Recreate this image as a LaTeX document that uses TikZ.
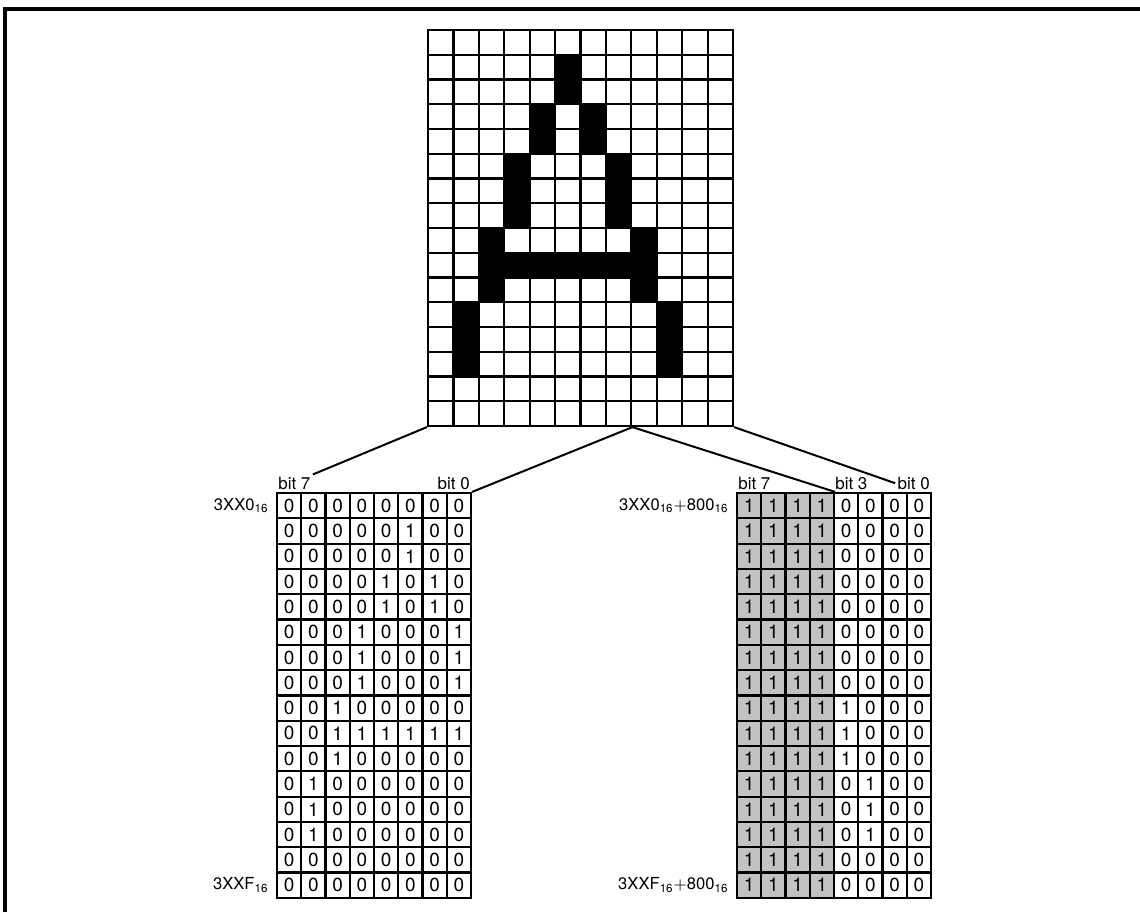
\documentclass[tikz,border=0pt]{standalone}
\usepackage{fontspec}
\setmainfont{TeX Gyre Heros}
\usetikzlibrary{positioning}

\begin{document}
\begin{tikzpicture}[
  x=0.5pt,y=-0.5pt,
  pix/.style={draw,line width=1.1pt,minimum width=12.71pt,minimum height=12.375pt,inner sep=0pt},
  cell/.style={draw,line width=1.1pt,minimum width=12.125pt,minimum height=12.65pt,inner sep=0pt,font=\fontsize{9.5}{9.5}\selectfont},
  shade/.style={cell,fill=black!24},
  lbl/.style={font=\fontsize{8.5}{8.5}\selectfont,inner sep=1pt},
  addr/.style={font=\fontsize{8.3}{9}\selectfont,inner sep=0pt},
  wire/.style={line width=1pt}
]
\useasboundingbox (0,0) rectangle (1140,912);
% frame
\draw[line width=1.6pt] (5,912) -- (5,9) -- (1140,9);

% dot matrix and the two byte tables
\foreach \row [count=\rw from 0] in {%
  {0,0,0,0,0,0,0,0,0,0,0,0},%
  {0,0,0,0,0,1,0,0,0,0,0,0},%
  {0,0,0,0,0,1,0,0,0,0,0,0},%
  {0,0,0,0,1,0,1,0,0,0,0,0},%
  {0,0,0,0,1,0,1,0,0,0,0,0},%
  {0,0,0,1,0,0,0,1,0,0,0,0},%
  {0,0,0,1,0,0,0,1,0,0,0,0},%
  {0,0,0,1,0,0,0,1,0,0,0,0},%
  {0,0,1,0,0,0,0,0,1,0,0,0},%
  {0,0,1,1,1,1,1,1,1,0,0,0},%
  {0,0,1,0,0,0,0,0,1,0,0,0},%
  {0,1,0,0,0,0,0,0,0,1,0,0},%
  {0,1,0,0,0,0,0,0,0,1,0,0},%
  {0,1,0,0,0,0,0,0,0,1,0,0},%
  {0,0,0,0,0,0,0,0,0,0,0,0},%
  {0,0,0,0,0,0,0,0,0,0,0,0}%
}{
  \foreach \bit [count=\col from 0] in \row {
    \ifnum\bit=1 \def\pixfill{black}\else\def\pixfill{white}\fi
    \node[pix,fill=\pixfill] (G-\rw-\col) at ({428+25.42*(\col+0.5)},{30+24.75*(\rw+0.5)}) {};
    \ifnum\col<8
      \node[cell] (L-\rw-\col) at ({277+24.25*(\col+0.5)},{493+25.3*(\rw+0.5)}) {\bit};
    \else
      \pgfmathtruncatemacro\k{\col-4}
      \node[cell] (R-\rw-\k) at ({737+24.25*(\k+0.5)},{493+25.3*(\rw+0.5)}) {\bit};
    \fi
  }
  \foreach \k in {0,...,3}
    \node[shade] (R-\rw-\k) at ({737+24.25*(\k+0.5)},{493+25.3*(\rw+0.5)}) {1};
}

% labels
\node[lbl,above right=0pt of L-0-0.north west] (lb7) {bit 7};
\node[lbl,above left=0pt of L-0-7.north east] (lb0) {bit 0};
\node[lbl,above right=0pt of R-0-0.north west] (rb7) {bit 7};
\node[lbl,above right=0pt of R-0-4.north west] (rb3) {bit 3};
\node[lbl,above left=0pt of R-0-7.north east] (rb0) {bit 0};
\node[addr,left=3.5pt of L-0-0] (lfirst) {3XX0\textsubscript{16}};
\node[addr,left=3.5pt of L-15-0] (llast) {3XXF\textsubscript{16}};
\node[addr,left=3.5pt of R-0-0] (rfirst) {3XX0\textsubscript{16}$+$800\textsubscript{16}};
\node[addr,left=3.5pt of R-15-0] (rlast) {3XXF\textsubscript{16}$+$800\textsubscript{16}};

% fan-out lines
\draw[wire] (G-15-0.south west) -- (lb7.north east);
\draw[wire] (G-15-7.south east) -- (L-0-7.north east);
\draw[wire] (G-15-7.south east) -- (R-0-3.north east);
\draw[wire] (G-15-11.south east) -- (rb0.west);
\end{tikzpicture}
\end{document}
